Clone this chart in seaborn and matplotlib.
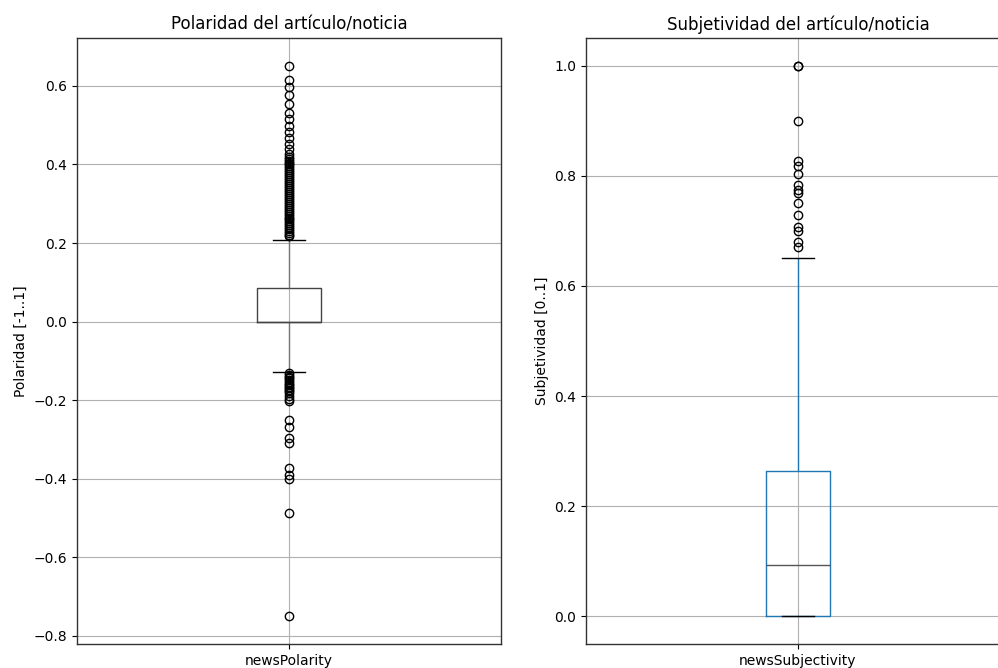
import numpy as np
import matplotlib
matplotlib.use("Agg")
import matplotlib.pyplot as plt
import seaborn as sns

# ---- values ----
pol_title = "Polaridad del artículo/noticia"
subj_title = "Subjetividad del artículo/noticia"
pol_label = "Polaridad [-1..1]"
subj_label = "Subjetividad [0..1]"
pol_name = "newsPolarity"
subj_name = "newsSubjectivity"

# box summary: lower whisker, q1, median, q3, upper whisker
pol_summary = [-0.128, 0.0, 0.0, 0.086, 0.208]
subj_summary = [0.0, 0.0, 0.094, 0.264, 0.650]

pol_outliers_high = [0.652, 0.614, 0.598, 0.578, 0.553, 0.530, 0.517, 0.497, 0.484,
                     0.467, 0.451, 0.439, 0.426,
                     0.420, 0.415, 0.410, 0.405, 0.400, 0.395, 0.390, 0.385, 0.380,
                     0.375, 0.370, 0.365, 0.360, 0.355, 0.350, 0.345, 0.340, 0.335,
                     0.330, 0.325, 0.320, 0.315, 0.310, 0.305, 0.300, 0.295, 0.290,
                     0.285, 0.280, 0.275, 0.270, 0.265, 0.260, 0.255, 0.250, 0.245,
                     0.240, 0.235, 0.230, 0.225, 0.220, 0.217]
pol_outliers_low = [-0.132, -0.135, -0.140, -0.145, -0.150, -0.155, -0.158, -0.162,
                    -0.167, -0.170, -0.175, -0.178, -0.183, -0.190, -0.197, -0.203,
                    -0.251, -0.269, -0.297, -0.310, -0.373, -0.390, -0.400, -0.487,
                    -0.751]
subj_outliers = [1.0, 1.0, 0.90, 0.826, 0.817, 0.803, 0.783, 0.775, 0.768, 0.750,
                 0.728, 0.707, 0.700, 0.679, 0.670]


def sample_from_summary(summary, outliers, n_lower_block, n_mid_block, n_upper_block):
    """Rebuild a sample whose box statistics equal the read summary."""
    lo, q1, med, q3, hi = summary
    vals = [lo] + [q1] * n_lower_block + [med] * n_mid_block + [q3] * n_upper_block + [hi]
    return np.array(sorted(vals + list(outliers)))


pol_sample = sample_from_summary(pol_summary, pol_outliers_high + pol_outliers_low, 200, 0, 100)
subj_sample = sample_from_summary(subj_summary, subj_outliers, 100, 100, 100)

plt.rcParams["font.family"] = ["DejaVu Sans"]
fig = plt.figure(figsize=(9.98, 6.68), dpi=100)
W, H = 998, 668
ax1 = fig.add_axes([77 / W, (H - 644) / H, 424 / W, 606 / H])
ax2 = fig.add_axes([586 / W, (H - 644) / H, 424 / W, 606 / H])

flier = dict(marker="o", markerfacecolor="none", markeredgecolor="black",
             markersize=6, markeredgewidth=1.0)


def draw(ax, data, box_color, whisker_color, median_color):
    sns.boxplot(y=data, ax=ax, width=0.15, whis=1.5, fill=False, linewidth=1.0,
                color=box_color, flierprops=flier,
                boxprops=dict(color=box_color),
                whiskerprops=dict(color=whisker_color),
                capprops=dict(color="black"),
                medianprops=dict(color=median_color))


draw(ax1, pol_sample, "#444444", "#777777", "#444444")
draw(ax2, subj_sample, "#1f77b4", "#1f77b4", "#555555")

for ax, data, title, ylabel, name in [
    (ax1, pol_sample, pol_title, pol_label, pol_name),
    (ax2, subj_sample, subj_title, subj_label, subj_name),
]:
    rng = data.max() - data.min()
    ax.set_ylim(data.min() - 0.05 * rng, data.max() + 0.05 * rng)
    ax.set_xlim(-0.5, 0.5)
    ax.set_xticks([0])
    ax.set_xticklabels([name])
    ax.set_title(title, fontsize=12)
    ax.set_ylabel(ylabel, fontsize=10)
    ax.set_xlabel("")
    ax.grid(True, color="#b0b0b0", linewidth=0.8)
    ax.set_axisbelow(True)
    ax.tick_params(labelsize=10)
    for s in ax.spines.values():
        s.set_color("#333333")
        s.set_linewidth(1.0)

ax1.set_yticks([-0.8, -0.6, -0.4, -0.2, 0.0, 0.2, 0.4, 0.6])
ax2.set_yticks([0.0, 0.2, 0.4, 0.6, 0.8, 1.0])

fig.savefig("out.png", dpi=100)
